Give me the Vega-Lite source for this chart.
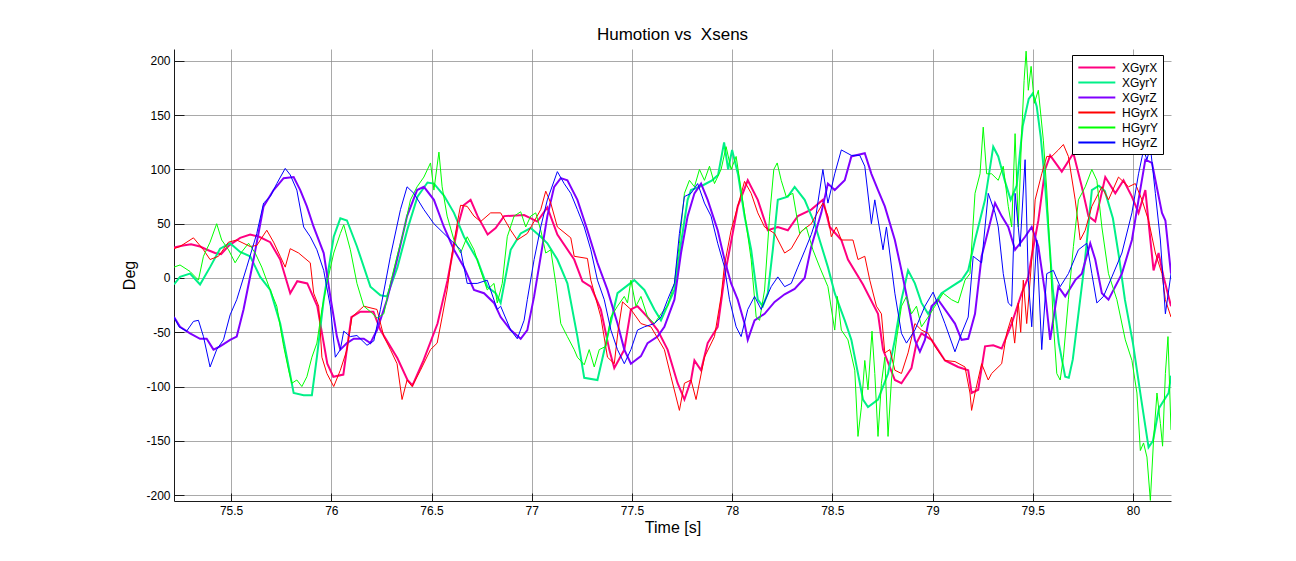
{
"$schema": "https://vega.github.io/schema/vega-lite/v6.json",
"width": 997, "height": 452,
"autosize": {"type": "none"},
"padding": {"left": 174, "top": 49, "right": 125, "bottom": 60},
"background": "white",
"title": {"text": "Humotion vs\u00a0 Xsens", "font": "Liberation Sans", "fontSize": 17, "fontWeight": "normal", "color": "#000", "anchor": "middle", "baseline": "alphabetic", "offset": 8, "dy": 16},
"config": {
  "view": {"stroke": null},
  "axis": {"labelFont": "Liberation Sans", "labelFontSize": 12, "labelColor": "#000", "titleFont": "Liberation Sans", "titleFontSize": 16, "titleFontWeight": "normal", "titleColor": "#000", "domainColor": "#1a1a1a", "domainWidth": 1, "tickColor": "#1a1a1a", "grid": true, "gridColor": "#8c8c8c", "gridOpacity": 0.75, "gridWidth": 1},
  "legend": {"title": null, "strokeColor": "#000", "fillColor": "#fff", "padding": 5, "labelFont": "Liberation Sans", "labelFontSize": 12, "labelColor": "#000", "symbolType": "M-1,0L5,0", "symbolSize": 152, "symbolStrokeWidth": 2, "labelOffset": 30, "rowPadding": 1, "cornerRadius": 0, "labelLimit": 200}
},
"encoding": {
  "x": {"field": "t", "type": "quantitative", "scale": {"domain": [75.215, 80.19], "nice": false, "zero": false},
        "axis": {"title": "Time [s]", "values": [75.5, 76, 76.5, 77, 77.5, 78, 78.5, 79, 79.5, 80], "labelExpr": "datum.value + ''", "tickSize": -8, "labelPadding": 12, "titlePadding": 3}},
  "y": {"field": "v", "type": "quantitative", "scale": {"domain": [-205.5, 211], "nice": false, "zero": false},
        "axis": {"title": "Deg", "values": [-200, -150, -100, -50, 0, 50, 100, 150, 200], "labelExpr": "datum.value + ''", "tickSize": -10, "labelPadding": 14, "titlePadding": 8}}
},
"layer": [
{"data": {"values": [
{"t":75.215,"v":28},{"t":75.26,"v":30},{"t":75.3,"v":31},{"t":75.345,"v":29},{"t":75.38,"v":26},{"t":75.42,"v":23},{"t":75.45,"v":22},{"t":75.49,"v":30},{"t":75.545,"v":37},{"t":75.595,"v":40},{"t":75.64,"v":38},{"t":75.695,"v":33},{"t":75.745,"v":17},{"t":75.795,"v":-14},{"t":75.83,"v":-3},{"t":75.88,"v":-5},{"t":75.93,"v":-26},{"t":75.98,"v":-79},{"t":76.01,"v":-91},{"t":76.06,"v":-89},{"t":76.1,"v":-36},{"t":76.145,"v":-31},{"t":76.21,"v":-31},{"t":76.245,"v":-48},{"t":76.33,"v":-74},{"t":76.38,"v":-94},{"t":76.405,"v":-99},{"t":76.46,"v":-76},{"t":76.53,"v":-42},{"t":76.58,"v":-2},{"t":76.63,"v":47},{"t":76.66,"v":67},{"t":76.695,"v":72},{"t":76.73,"v":57},{"t":76.78,"v":40},{"t":76.82,"v":46},{"t":76.862,"v":57},{"t":76.962,"v":58},{"t":77.028,"v":52},{"t":77.078,"v":65},{"t":77.128,"v":40},{"t":77.212,"v":17},{"t":77.253,"v":-3},{"t":77.295,"v":-8},{"t":77.345,"v":-29},{"t":77.387,"v":-66},{"t":77.412,"v":-83},{"t":77.462,"v":-66},{"t":77.495,"v":-29},{"t":77.528,"v":-26},{"t":77.578,"v":-36},{"t":77.628,"v":-48},{"t":77.678,"v":-66},{"t":77.728,"v":-97},{"t":77.762,"v":-112},{"t":77.795,"v":-94},{"t":77.812,"v":-76},{"t":77.845,"v":-85},{"t":77.878,"v":-60},{"t":77.928,"v":-45},{"t":77.962,"v":1},{"t":78.028,"v":66},{"t":78.078,"v":90},{"t":78.128,"v":72},{"t":78.178,"v":44},{"t":78.228,"v":47},{"t":78.278,"v":44},{"t":78.328,"v":57},{"t":78.395,"v":63},{"t":78.453,"v":72},{"t":78.487,"v":47},{"t":78.545,"v":35},{"t":78.578,"v":17},{"t":78.653,"v":-6},{"t":78.728,"v":-33},{"t":78.753,"v":-66},{"t":78.812,"v":-94},{"t":78.845,"v":-97},{"t":78.895,"v":-83},{"t":78.92,"v":-60},{"t":78.945,"v":-51},{"t":78.995,"v":-57},{"t":79.062,"v":-76},{"t":79.128,"v":-82},{"t":79.178,"v":-85},{"t":79.195,"v":-106},{"t":79.228,"v":-103},{"t":79.262,"v":-63},{"t":79.303,"v":-62},{"t":79.345,"v":-65},{"t":79.395,"v":-42},{"t":79.445,"v":-14},{"t":79.478,"v":1},{"t":79.495,"v":20},{"t":79.528,"v":53},{"t":79.562,"v":100},{"t":79.587,"v":113},{"t":79.645,"v":98},{"t":79.703,"v":115},{"t":79.745,"v":84},{"t":79.778,"v":57},{"t":79.812,"v":52},{"t":79.862,"v":93},{"t":79.912,"v":78},{"t":79.953,"v":90},{"t":79.995,"v":75},{"t":80.028,"v":60},{"t":80.062,"v":81},{"t":80.087,"v":35},{"t":80.103,"v":7},{"t":80.128,"v":23},{"t":80.153,"v":1},{"t":80.19,"v":-26}
]},
 "mark": {"type": "line", "strokeWidth": 2, "clip": true},
 "encoding": {"color": {"datum": "XGyrX", "type": "nominal", "scale": {"domain": ["XGyrX", "XGyrY", "XGyrZ", "HGyrX", "HGyrY", "HGyrZ"], "range": ["#ff0080", "#00f088", "#8000ff", "#ff0000", "#00ff00", "#0000ff"]}, "legend": {"orient": "none", "legendX": 898, "legendY": 6}}}},
{"data": {"values": [
{"t":75.215,"v":-6},{"t":75.245,"v":1},{"t":75.295,"v":4},{"t":75.345,"v":-6},{"t":75.395,"v":10},{"t":75.445,"v":27},{"t":75.495,"v":32},{"t":75.545,"v":24},{"t":75.595,"v":20},{"t":75.645,"v":1},{"t":75.695,"v":-11},{"t":75.745,"v":-42},{"t":75.778,"v":-73},{"t":75.812,"v":-106},{"t":75.862,"v":-108},{"t":75.903,"v":-108},{"t":75.928,"v":-73},{"t":75.962,"v":-20},{"t":76.012,"v":38},{"t":76.045,"v":55},{"t":76.078,"v":53},{"t":76.128,"v":29},{"t":76.195,"v":-8},{"t":76.245,"v":-16},{"t":76.278,"v":-17},{"t":76.33,"v":10},{"t":76.38,"v":45},{"t":76.43,"v":75},{"t":76.48,"v":88},{"t":76.512,"v":87},{"t":76.562,"v":76},{"t":76.612,"v":60},{"t":76.662,"v":38},{"t":76.728,"v":17},{"t":76.778,"v":-8},{"t":76.82,"v":-14},{"t":76.845,"v":-23},{"t":76.895,"v":26},{"t":76.945,"v":41},{"t":76.995,"v":46},{"t":77.045,"v":38},{"t":77.078,"v":32},{"t":77.128,"v":17},{"t":77.178,"v":-5},{"t":77.228,"v":-54},{"t":77.262,"v":-92},{"t":77.328,"v":-94},{"t":77.378,"v":-54},{"t":77.428,"v":-14},{"t":77.512,"v":-2},{"t":77.562,"v":-11},{"t":77.612,"v":-29},{"t":77.645,"v":-39},{"t":77.712,"v":-11},{"t":77.745,"v":32},{"t":77.778,"v":72},{"t":77.795,"v":81},{"t":77.85,"v":85},{"t":77.9,"v":90},{"t":77.93,"v":95},{"t":77.96,"v":125},{"t":77.98,"v":100},{"t":78.0,"v":118},{"t":78.03,"v":95},{"t":78.062,"v":57},{"t":78.095,"v":26},{"t":78.128,"v":-20},{"t":78.153,"v":-26},{"t":78.178,"v":-14},{"t":78.203,"v":26},{"t":78.228,"v":72},{"t":78.278,"v":75},{"t":78.312,"v":84},{"t":78.362,"v":72},{"t":78.412,"v":50},{"t":78.445,"v":30},{"t":78.478,"v":10},{"t":78.512,"v":-14},{"t":78.562,"v":-39},{"t":78.595,"v":-57},{"t":78.628,"v":-88},{"t":78.653,"v":-112},{"t":78.678,"v":-119},{"t":78.728,"v":-112},{"t":78.778,"v":-88},{"t":78.812,"v":-57},{"t":78.845,"v":-20},{"t":78.878,"v":7},{"t":78.912,"v":-5},{"t":78.945,"v":-23},{"t":78.978,"v":-33},{"t":79.012,"v":-23},{"t":79.045,"v":-14},{"t":79.095,"v":-8},{"t":79.145,"v":-2},{"t":79.178,"v":7},{"t":79.212,"v":35},{"t":79.262,"v":72},{"t":79.303,"v":121},{"t":79.328,"v":112},{"t":79.36,"v":90},{"t":79.39,"v":72},{"t":79.42,"v":85},{"t":79.45,"v":140},{"t":79.48,"v":165},{"t":79.5,"v":170},{"t":79.52,"v":158},{"t":79.54,"v":130},{"t":79.56,"v":90},{"t":79.58,"v":40},{"t":79.6,"v":-10},{"t":79.63,"v":-60},{"t":79.662,"v":-91},{"t":79.68,"v":-92},{"t":79.7,"v":-75},{"t":79.73,"v":-30},{"t":79.76,"v":15},{"t":79.795,"v":81},{"t":79.83,"v":85},{"t":79.86,"v":80},{"t":79.9,"v":55},{"t":79.93,"v":20},{"t":79.96,"v":-20},{"t":80.0,"v":-60},{"t":80.04,"v":-110},{"t":80.078,"v":-156},{"t":80.1,"v":-150},{"t":80.13,"v":-120},{"t":80.178,"v":-106},{"t":80.19,"v":-90}
]},
 "mark": {"type": "line", "strokeWidth": 2, "clip": true},
 "encoding": {"color": {"datum": "XGyrY", "type": "nominal"}}},
{"data": {"values": [
{"t":75.215,"v":-36},{"t":75.245,"v":-45},{"t":75.295,"v":-51},{"t":75.345,"v":-56},{"t":75.378,"v":-56},{"t":75.412,"v":-66},{"t":75.445,"v":-63},{"t":75.495,"v":-57},{"t":75.528,"v":-54},{"t":75.562,"v":-29},{"t":75.612,"v":17},{"t":75.662,"v":66},{"t":75.712,"v":81},{"t":75.762,"v":92},{"t":75.812,"v":93},{"t":75.845,"v":81},{"t":75.878,"v":66},{"t":75.912,"v":47},{"t":75.962,"v":23},{"t":75.995,"v":-17},{"t":76.028,"v":-54},{"t":76.045,"v":-66},{"t":76.078,"v":-60},{"t":76.112,"v":-56},{"t":76.162,"v":-56},{"t":76.195,"v":-60},{"t":76.228,"v":-48},{"t":76.278,"v":-20},{"t":76.328,"v":17},{"t":76.378,"v":57},{"t":76.428,"v":81},{"t":76.462,"v":84},{"t":76.512,"v":72},{"t":76.562,"v":47},{"t":76.612,"v":26},{"t":76.662,"v":10},{"t":76.712,"v":-11},{"t":76.762,"v":-14},{"t":76.812,"v":-23},{"t":76.845,"v":-36},{"t":76.895,"v":-48},{"t":76.945,"v":-56},{"t":76.978,"v":-48},{"t":77.012,"v":-17},{"t":77.045,"v":20},{"t":77.078,"v":57},{"t":77.112,"v":84},{"t":77.145,"v":92},{"t":77.178,"v":90},{"t":77.228,"v":72},{"t":77.278,"v":44},{"t":77.328,"v":14},{"t":77.378,"v":-11},{"t":77.428,"v":-42},{"t":77.462,"v":-66},{"t":77.495,"v":-79},{"t":77.545,"v":-72},{"t":77.578,"v":-60},{"t":77.628,"v":-54},{"t":77.662,"v":-45},{"t":77.712,"v":-20},{"t":77.745,"v":23},{"t":77.778,"v":57},{"t":77.812,"v":78},{"t":77.845,"v":87},{"t":77.878,"v":72},{"t":77.928,"v":44},{"t":77.962,"v":17},{"t":77.995,"v":-5},{"t":78.028,"v":-20},{"t":78.062,"v":-42},{"t":78.078,"v":-57},{"t":78.112,"v":-39},{"t":78.162,"v":-33},{"t":78.212,"v":-22},{"t":78.262,"v":-15},{"t":78.312,"v":-10},{"t":78.362,"v":0},{"t":78.395,"v":29},{"t":78.445,"v":60},{"t":78.478,"v":87},{"t":78.512,"v":81},{"t":78.562,"v":90},{"t":78.595,"v":112},{"t":78.662,"v":115},{"t":78.695,"v":96},{"t":78.728,"v":81},{"t":78.762,"v":66},{"t":78.812,"v":35},{"t":78.845,"v":7},{"t":78.878,"v":-23},{"t":78.912,"v":-57},{"t":78.937,"v":-68},{"t":78.962,"v":-57},{"t":78.995,"v":-26},{"t":79.028,"v":-20},{"t":79.078,"v":-33},{"t":79.112,"v":-42},{"t":79.145,"v":-57},{"t":79.178,"v":-56},{"t":79.212,"v":-33},{"t":79.245,"v":20},{"t":79.278,"v":44},{"t":79.312,"v":69},{"t":79.345,"v":57},{"t":79.378,"v":47},{"t":79.412,"v":26},{"t":79.462,"v":38},{"t":79.495,"v":47},{"t":79.528,"v":29},{"t":79.562,"v":-14},{"t":79.587,"v":-57},{"t":79.628,"v":-8},{"t":79.662,"v":-17},{"t":79.712,"v":-2},{"t":79.745,"v":4},{"t":79.787,"v":32},{"t":79.812,"v":17},{"t":79.845,"v":-14},{"t":79.878,"v":-20},{"t":79.945,"v":4},{"t":79.995,"v":35},{"t":80.028,"v":72},{"t":80.062,"v":109},{"t":80.095,"v":106},{"t":80.145,"v":60},{"t":80.162,"v":53},{"t":80.19,"v":4}
]},
 "mark": {"type": "line", "strokeWidth": 2, "clip": true},
 "encoding": {"color": {"datum": "XGyrZ", "type": "nominal"}}},
{"data": {"values": [
{"t":75.215,"v":27},{"t":75.245,"v":29},{"t":75.312,"v":37},{"t":75.362,"v":26},{"t":75.395,"v":17},{"t":75.437,"v":20},{"t":75.487,"v":33},{"t":75.528,"v":35},{"t":75.595,"v":29},{"t":75.628,"v":30},{"t":75.678,"v":44},{"t":75.712,"v":33},{"t":75.745,"v":20},{"t":75.77,"v":10},{"t":75.795,"v":27},{"t":75.837,"v":23},{"t":75.895,"v":14},{"t":75.912,"v":-14},{"t":75.937,"v":-26},{"t":75.953,"v":-73},{"t":75.978,"v":-88},{"t":76.012,"v":-100},{"t":76.045,"v":-85},{"t":76.078,"v":-66},{"t":76.103,"v":-36},{"t":76.162,"v":-26},{"t":76.228,"v":-29},{"t":76.262,"v":-54},{"t":76.295,"v":-66},{"t":76.328,"v":-79},{"t":76.353,"v":-112},{"t":76.378,"v":-94},{"t":76.403,"v":-100},{"t":76.445,"v":-85},{"t":76.495,"v":-66},{"t":76.528,"v":-60},{"t":76.553,"v":-36},{"t":76.578,"v":-11},{"t":76.603,"v":23},{"t":76.628,"v":50},{"t":76.645,"v":67},{"t":76.678,"v":66},{"t":76.712,"v":57},{"t":76.745,"v":52},{"t":76.795,"v":60},{"t":76.845,"v":60},{"t":76.895,"v":44},{"t":76.928,"v":35},{"t":76.978,"v":41},{"t":77.045,"v":63},{"t":77.07,"v":80},{"t":77.095,"v":69},{"t":77.128,"v":47},{"t":77.195,"v":37},{"t":77.212,"v":20},{"t":77.278,"v":18},{"t":77.295,"v":-2},{"t":77.345,"v":-36},{"t":77.378,"v":-73},{"t":77.412,"v":-79},{"t":77.43,"v":-50},{"t":77.453,"v":-22},{"t":77.495,"v":-29},{"t":77.545,"v":-42},{"t":77.595,"v":-45},{"t":77.662,"v":-66},{"t":77.695,"v":-91},{"t":77.737,"v":-122},{"t":77.762,"v":-97},{"t":77.795,"v":-94},{"t":77.82,"v":-112},{"t":77.862,"v":-73},{"t":77.912,"v":-54},{"t":77.945,"v":-17},{"t":77.962,"v":12},{"t":77.995,"v":44},{"t":78.028,"v":66},{"t":78.062,"v":89},{"t":78.095,"v":78},{"t":78.128,"v":60},{"t":78.162,"v":47},{"t":78.212,"v":41},{"t":78.262,"v":23},{"t":78.295,"v":27},{"t":78.345,"v":43},{"t":78.395,"v":50},{"t":78.453,"v":69},{"t":78.478,"v":57},{"t":78.495,"v":38},{"t":78.52,"v":47},{"t":78.545,"v":35},{"t":78.603,"v":35},{"t":78.628,"v":17},{"t":78.662,"v":20},{"t":78.687,"v":-2},{"t":78.72,"v":-26},{"t":78.745,"v":-33},{"t":78.762,"v":-69},{"t":78.787,"v":-66},{"t":78.812,"v":-85},{"t":78.845,"v":-88},{"t":78.878,"v":-69},{"t":78.912,"v":-42},{"t":78.945,"v":-48},{"t":78.978,"v":-51},{"t":79.012,"v":-63},{"t":79.062,"v":-76},{"t":79.112,"v":-77},{"t":79.162,"v":-82},{"t":79.187,"v":-106},{"t":79.195,"v":-122},{"t":79.212,"v":-106},{"t":79.245,"v":-79},{"t":79.278,"v":-94},{"t":79.295,"v":-88},{"t":79.345,"v":-79},{"t":79.37,"v":-51},{"t":79.395,"v":-36},{"t":79.41,"v":-60},{"t":79.428,"v":-23},{"t":79.44,"v":-50},{"t":79.453,"v":-2},{"t":79.47,"v":-42},{"t":79.495,"v":17},{"t":79.512,"v":72},{"t":79.545,"v":96},{"t":79.57,"v":112},{"t":79.595,"v":112},{"t":79.628,"v":118},{"t":79.653,"v":123},{"t":79.678,"v":112},{"t":79.712,"v":72},{"t":79.737,"v":35},{"t":79.762,"v":44},{"t":79.795,"v":66},{"t":79.845,"v":84},{"t":79.878,"v":72},{"t":79.928,"v":93},{"t":79.978,"v":84},{"t":80.012,"v":87},{"t":80.045,"v":72},{"t":80.078,"v":53},{"t":80.112,"v":23},{"t":80.145,"v":4},{"t":80.162,"v":-20},{"t":80.19,"v":-36}
]},
 "mark": {"type": "line", "strokeWidth": 1, "clip": true},
 "encoding": {"color": {"datum": "HGyrX", "type": "nominal"}}},
{"data": {"values": [
{"t":75.215,"v":10},{"t":75.245,"v":12},{"t":75.295,"v":6},{"t":75.337,"v":-2},{"t":75.362,"v":20},{"t":75.395,"v":33},{"t":75.428,"v":50},{"t":75.453,"v":35},{"t":75.487,"v":26},{"t":75.52,"v":14},{"t":75.553,"v":24},{"t":75.587,"v":32},{"t":75.62,"v":23},{"t":75.653,"v":10},{"t":75.695,"v":-11},{"t":75.728,"v":-26},{"t":75.762,"v":-63},{"t":75.787,"v":-85},{"t":75.803,"v":-97},{"t":75.828,"v":-94},{"t":75.853,"v":-100},{"t":75.878,"v":-91},{"t":75.903,"v":-73},{"t":75.928,"v":-60},{"t":75.953,"v":-29},{"t":75.978,"v":-5},{"t":76.012,"v":23},{"t":76.045,"v":41},{"t":76.062,"v":49},{"t":76.095,"v":26},{"t":76.128,"v":-5},{"t":76.162,"v":-26},{"t":76.195,"v":-31},{"t":76.228,"v":-37},{"t":76.262,"v":-33},{"t":76.295,"v":-5},{"t":76.328,"v":20},{"t":76.362,"v":44},{"t":76.395,"v":72},{"t":76.428,"v":84},{"t":76.462,"v":93},{"t":76.495,"v":106},{"t":76.512,"v":81},{"t":76.537,"v":116},{"t":76.553,"v":84},{"t":76.578,"v":57},{"t":76.612,"v":35},{"t":76.645,"v":23},{"t":76.678,"v":38},{"t":76.712,"v":26},{"t":76.745,"v":7},{"t":76.778,"v":-11},{"t":76.812,"v":-5},{"t":76.828,"v":-23},{"t":76.853,"v":-5},{"t":76.878,"v":38},{"t":76.912,"v":57},{"t":76.945,"v":61},{"t":76.97,"v":47},{"t":76.995,"v":57},{"t":77.02,"v":60},{"t":77.045,"v":44},{"t":77.07,"v":23},{"t":77.095,"v":26},{"t":77.12,"v":-5},{"t":77.145,"v":-42},{"t":77.178,"v":-54},{"t":77.212,"v":-66},{"t":77.228,"v":-73},{"t":77.262,"v":-80},{"t":77.287,"v":-66},{"t":77.312,"v":-82},{"t":77.337,"v":-66},{"t":77.37,"v":-63},{"t":77.395,"v":-36},{"t":77.428,"v":-26},{"t":77.462,"v":-17},{"t":77.478,"v":-23},{"t":77.495,"v":-2},{"t":77.52,"v":-26},{"t":77.545,"v":-17},{"t":77.578,"v":-36},{"t":77.612,"v":-42},{"t":77.645,"v":-33},{"t":77.678,"v":-26},{"t":77.712,"v":-5},{"t":77.737,"v":32},{"t":77.762,"v":78},{"t":77.787,"v":90},{"t":77.812,"v":84},{"t":77.837,"v":100},{"t":77.862,"v":90},{"t":77.887,"v":103},{"t":77.912,"v":87},{"t":77.945,"v":100},{"t":77.97,"v":121},{"t":77.995,"v":100},{"t":78.02,"v":112},{"t":78.045,"v":81},{"t":78.07,"v":50},{"t":78.095,"v":17},{"t":78.12,"v":-36},{"t":78.137,"v":-39},{"t":78.162,"v":-11},{"t":78.187,"v":57},{"t":78.208,"v":100},{"t":78.225,"v":106},{"t":78.245,"v":90},{"t":78.27,"v":75},{"t":78.303,"v":78},{"t":78.337,"v":41},{"t":78.37,"v":47},{"t":78.403,"v":26},{"t":78.437,"v":10},{"t":78.478,"v":-8},{"t":78.512,"v":-48},{"t":78.525,"v":-17},{"t":78.545,"v":-48},{"t":78.578,"v":-57},{"t":78.612,"v":-85},{"t":78.628,"v":-146},{"t":78.645,"v":-119},{"t":78.662,"v":-76},{"t":78.678,"v":-103},{"t":78.698,"v":-49},{"t":78.712,"v":-88},{"t":78.728,"v":-146},{"t":78.745,"v":-97},{"t":78.762,"v":-73},{"t":78.778,"v":-146},{"t":78.795,"v":-94},{"t":78.82,"v":-57},{"t":78.845,"v":-26},{"t":78.87,"v":-17},{"t":78.895,"v":-33},{"t":78.92,"v":-26},{"t":78.945,"v":-45},{"t":78.978,"v":-36},{"t":79.012,"v":-26},{"t":79.053,"v":-14},{"t":79.095,"v":-20},{"t":79.128,"v":-23},{"t":79.162,"v":-2},{"t":79.187,"v":4},{"t":79.212,"v":78},{"t":79.237,"v":96},{"t":79.253,"v":139},{"t":79.27,"v":96},{"t":79.295,"v":96},{"t":79.328,"v":90},{"t":79.353,"v":103},{"t":79.378,"v":66},{"t":79.395,"v":47},{"t":79.412,"v":133},{"t":79.428,"v":47},{"t":79.445,"v":133},{"t":79.457,"v":182},{"t":79.467,"v":209},{"t":79.478,"v":173},{"t":79.492,"v":195},{"t":79.508,"v":161},{"t":79.528,"v":173},{"t":79.553,"v":127},{"t":79.57,"v":81},{"t":79.587,"v":20},{"t":79.603,"v":-42},{"t":79.62,"v":-88},{"t":79.637,"v":-94},{"t":79.653,"v":-73},{"t":79.678,"v":-20},{"t":79.703,"v":29},{"t":79.728,"v":72},{"t":79.762,"v":84},{"t":79.795,"v":100},{"t":79.82,"v":90},{"t":79.845,"v":47},{"t":79.878,"v":4},{"t":79.92,"v":-20},{"t":79.962,"v":-57},{"t":79.995,"v":-76},{"t":80.02,"v":-106},{"t":80.037,"v":-159},{"t":80.053,"v":-152},{"t":80.07,"v":-165},{"t":80.087,"v":-205},{"t":80.103,"v":-149},{"t":80.12,"v":-106},{"t":80.137,"v":-134},{"t":80.148,"v":-155},{"t":80.162,"v":-88},{"t":80.175,"v":-54},{"t":80.19,"v":-140}
]},
 "mark": {"type": "line", "strokeWidth": 1, "clip": true},
 "encoding": {"color": {"datum": "HGyrY", "type": "nominal"}}},
{"data": {"values": [
{"t":75.215,"v":-36},{"t":75.24,"v":-45},{"t":75.278,"v":-49},{"t":75.312,"v":-40},{"t":75.337,"v":-39},{"t":75.362,"v":-54},{"t":75.395,"v":-82},{"t":75.428,"v":-66},{"t":75.462,"v":-57},{"t":75.495,"v":-34},{"t":75.528,"v":-20},{"t":75.578,"v":10},{"t":75.628,"v":41},{"t":75.662,"v":69},{"t":75.695,"v":75},{"t":75.728,"v":87},{"t":75.77,"v":101},{"t":75.795,"v":95},{"t":75.828,"v":81},{"t":75.862,"v":47},{"t":75.895,"v":38},{"t":75.928,"v":26},{"t":75.962,"v":7},{"t":75.995,"v":-26},{"t":76.02,"v":-73},{"t":76.045,"v":-66},{"t":76.062,"v":-49},{"t":76.095,"v":-54},{"t":76.128,"v":-53},{"t":76.178,"v":-62},{"t":76.212,"v":-58},{"t":76.245,"v":-29},{"t":76.295,"v":20},{"t":76.345,"v":63},{"t":76.378,"v":84},{"t":76.412,"v":78},{"t":76.462,"v":63},{"t":76.512,"v":50},{"t":76.562,"v":41},{"t":76.612,"v":32},{"t":76.645,"v":26},{"t":76.678,"v":-5},{"t":76.728,"v":-5},{"t":76.778,"v":-2},{"t":76.828,"v":-29},{"t":76.845,"v":-26},{"t":76.895,"v":-48},{"t":76.928,"v":-56},{"t":76.962,"v":-39},{"t":76.978,"v":-20},{"t":77.012,"v":17},{"t":77.045,"v":47},{"t":77.078,"v":72},{"t":77.128,"v":98},{"t":77.162,"v":87},{"t":77.195,"v":78},{"t":77.228,"v":63},{"t":77.262,"v":47},{"t":77.295,"v":26},{"t":77.328,"v":-2},{"t":77.362,"v":-20},{"t":77.395,"v":-48},{"t":77.428,"v":-66},{"t":77.462,"v":-79},{"t":77.495,"v":-66},{"t":77.528,"v":-48},{"t":77.562,"v":-45},{"t":77.612,"v":-42},{"t":77.645,"v":-36},{"t":77.678,"v":-20},{"t":77.712,"v":-5},{"t":77.737,"v":41},{"t":77.762,"v":75},{"t":77.795,"v":78},{"t":77.828,"v":87},{"t":77.862,"v":69},{"t":77.895,"v":57},{"t":77.928,"v":32},{"t":77.962,"v":10},{"t":77.987,"v":-20},{"t":78.02,"v":-45},{"t":78.045,"v":-54},{"t":78.078,"v":-29},{"t":78.112,"v":-17},{"t":78.145,"v":-29},{"t":78.195,"v":-8},{"t":78.228,"v":1},{"t":78.262,"v":-8},{"t":78.295,"v":-5},{"t":78.328,"v":10},{"t":78.362,"v":25},{"t":78.395,"v":40},{"t":78.412,"v":50},{"t":78.453,"v":100},{"t":78.478,"v":69},{"t":78.512,"v":96},{"t":78.545,"v":118},{"t":78.595,"v":113},{"t":78.637,"v":113},{"t":78.662,"v":103},{"t":78.695,"v":50},{"t":78.712,"v":72},{"t":78.753,"v":26},{"t":78.77,"v":47},{"t":78.812,"v":-14},{"t":78.845,"v":-51},{"t":78.87,"v":-60},{"t":78.912,"v":-48},{"t":78.962,"v":-26},{"t":79.003,"v":-13},{"t":79.062,"v":-42},{"t":79.112,"v":-68},{"t":79.145,"v":-51},{"t":79.178,"v":-36},{"t":79.203,"v":20},{"t":79.245,"v":14},{"t":79.278,"v":78},{"t":79.312,"v":60},{"t":79.328,"v":47},{"t":79.353,"v":4},{"t":79.378,"v":-23},{"t":79.395,"v":-26},{"t":79.412,"v":78},{"t":79.437,"v":29},{"t":79.462,"v":109},{"t":79.478,"v":-2},{"t":79.495,"v":-45},{"t":79.52,"v":35},{"t":79.545,"v":-66},{"t":79.57,"v":4},{"t":79.603,"v":7},{"t":79.637,"v":-8},{"t":79.678,"v":4},{"t":79.728,"v":26},{"t":79.77,"v":32},{"t":79.795,"v":4},{"t":79.82,"v":-23},{"t":79.853,"v":-17},{"t":79.895,"v":1},{"t":79.945,"v":23},{"t":79.995,"v":60},{"t":80.028,"v":96},{"t":80.053,"v":118},{"t":80.07,"v":109},{"t":80.087,"v":121},{"t":80.112,"v":78},{"t":80.137,"v":35},{"t":80.162,"v":-33},{"t":80.19,"v":4}
]},
 "mark": {"type": "line", "strokeWidth": 1, "clip": true},
 "encoding": {"color": {"datum": "HGyrZ", "type": "nominal"}}}
]
}
